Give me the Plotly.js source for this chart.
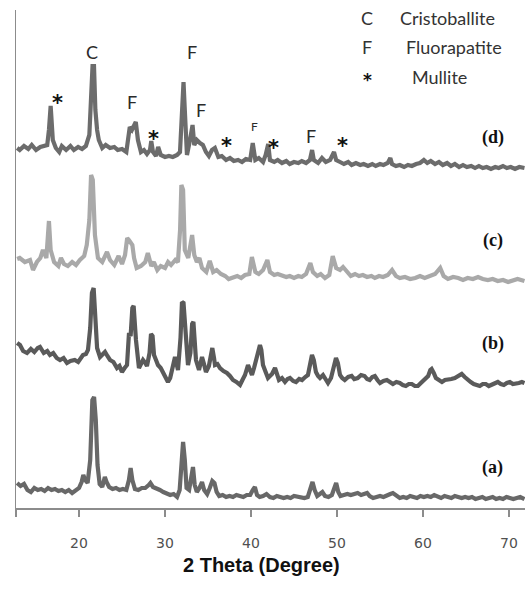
<!DOCTYPE html>
<html>
<head>
<meta charset="utf-8">
<script src="https://cdn.plot.ly/plotly-3.0.1.min.js"></script>
<style>
  html, body { margin: 0; padding: 0; background: #ffffff; }
  #chart { width: 525px; height: 591px; }
</style>
</head>
<body>
<div id="chart"></div>
<script>
// X-ray diffraction patterns, pairs of [2θ (deg), intensity (a.u.)]
const scanA = [
  [12.8,25],[13.2,22],[13.6,24],[14.0,18],[14.4,16],[14.8,20],[15.2,18],[15.6,19],[16.0,17],[16.4,20],
  [16.8,18],[17.2,19],[17.6,17],[18.0,18],[18.4,16],[18.8,18],[19.2,15],[19.6,17],[20.0,20],[20.3,26],
  [20.5,33],[20.7,28],[21.0,25],[21.3,48],[21.55,108],[21.75,111],[21.95,88],[22.15,43],[22.4,24],[22.7,21],
  [23.0,31],[23.2,26],[23.5,21],[23.9,19],[24.3,20],[24.7,18],[25.1,19],[25.5,18],[25.8,28],[26.0,40],
  [26.2,28],[26.5,19],[26.9,18],[27.3,20],[27.7,20],[28.1,23],[28.3,25],[28.6,21],[29.0,20],[29.4,18],
  [29.8,16],[30.2,15],[30.6,13],[31.0,14],[31.4,11],[31.7,18],[31.9,48],[32.1,66],[32.3,48],[32.5,20],
  [32.8,18],[33.1,33],[33.25,41],[33.45,23],[33.7,16],[34.0,20],[34.3,26],[34.55,18],[34.9,14],[35.2,20],
  [35.5,27],[35.75,25],[36.0,16],[36.3,12],[36.7,13],[37.1,11],[37.5,12],[37.9,11],[38.3,13],[38.7,12],
  [39.1,11],[39.5,13],[39.9,13],[40.2,18],[40.45,21],[40.7,13],[41.0,11],[41.4,12],[41.8,14],[42.2,11],
  [42.6,10],[43.0,12],[43.4,11],[43.8,10],[44.2,11],[44.6,10],[45.0,12],[45.4,11],[45.8,11],[46.2,10],
  [46.6,11],[46.9,18],[47.15,26],[47.4,18],[47.7,12],[48.0,14],[48.3,16],[48.6,12],[49.0,11],[49.4,13],
  [49.7,20],[49.9,25],[50.15,16],[50.4,12],[50.8,13],[51.2,14],[51.6,13],[52.0,14],[52.4,15],[52.8,13],
  [53.2,14],[53.5,15],[53.8,12],[54.2,10],[54.6,11],[55.0,12],[55.4,11],[55.8,13],[56.2,14],[56.5,15],
  [56.9,12],[57.3,10],[57.7,11],[58.1,10],[58.5,12],[58.9,11],[59.3,10],[59.7,12],[60.1,11],[60.5,12],
  [60.9,11],[61.3,13],[61.7,11],[62.1,10],[62.5,12],[62.9,11],[63.3,10],[63.7,12],[64.1,11],[64.5,10],
  [64.9,11],[65.3,10],[65.7,11],[66.1,9],[66.5,10],[66.9,11],[67.3,9],[67.7,10],[68.1,11],[68.5,9],
  [68.9,10],[69.3,9],[69.7,11],[70.1,10],[70.5,9],[70.9,10],[71.3,11],[71.8,9]
];

const scanB = [
  [12.8,55],[13.13,53],[13.5,47],[13.95,45],[14.4,49],[14.8,46],[15.2,50],[15.46,51],[15.9,45],[16.3,47],
  [16.62,43],[17.0,45],[17.4,40],[17.79,38],[18.2,40],[18.6,35],[19.0,37],[19.5,38],[19.9,36],[20.46,43],
  [20.8,44],[21.04,48],[21.3,70],[21.5,105],[21.7,110],[21.9,80],[22.1,50],[22.44,41],[22.7,44],[23.02,46],
  [23.3,42],[23.6,38],[24.0,36],[24.41,30],[24.7,32],[24.99,26],[25.3,30],[25.58,33],[25.81,65],[26.0,62],
  [26.2,90],[26.35,92],[26.62,58],[26.97,30],[27.2,34],[27.44,38],[27.7,35],[27.9,32],[28.2,45],[28.37,64],
  [28.55,62],[28.72,43],[28.95,38],[29.18,33],[29.5,30],[29.76,26],[30.05,22],[30.34,16],[30.6,20],[30.81,26],
  [31.0,35],[31.16,41],[31.35,35],[31.51,28],[31.8,60],[31.97,96],[32.15,95],[32.32,78],[32.5,50],[32.67,33],
  [32.95,45],[33.15,74],[33.3,76],[33.45,50],[33.6,38],[33.95,28],[34.15,35],[34.3,41],[34.5,35],[34.76,26],
  [35.1,32],[35.35,48],[35.5,50],[35.7,40],[35.81,33],[36.1,34],[36.39,30],[36.8,27],[37.2,25],[37.55,22],
  [37.9,18],[38.3,16],[38.72,13],[39.0,18],[39.3,23],[39.65,33],[39.9,28],[40.11,23],[40.35,30],[40.58,38],
  [40.85,50],[41.04,53],[41.2,48],[41.39,33],[41.7,26],[41.97,20],[42.2,22],[42.44,24],[42.79,30],[43.0,25],
  [43.25,18],[43.6,20],[43.95,16],[44.25,19],[44.53,20],[44.9,17],[45.23,16],[45.6,19],[45.93,18],[46.3,21],
  [46.62,23],[46.9,35],[47.09,43],[47.3,38],[47.55,26],[47.8,22],[48.02,20],[48.37,23],[48.65,19],[48.95,15],
  [49.3,20],[49.6,32],[49.88,40],[50.1,35],[50.35,23],[50.6,20],[50.9,18],[51.3,21],[51.7,22],[52.0,19],
  [52.4,20],[52.8,23],[53.2,22],[53.5,19],[53.8,18],[54.1,21],[54.4,22],[54.7,18],[55.0,15],[55.4,17],
  [55.8,18],[56.15,16],[56.5,14],[56.9,16],[57.3,15],[57.65,13],[58.0,12],[58.35,14],[58.7,14],[59.05,12],
  [59.4,12],[59.75,15],[60.1,18],[60.35,20],[60.6,22],[60.85,28],[61.0,29],[61.25,25],[61.5,20],[61.85,18],
  [62.2,16],[62.55,18],[62.9,18],[63.3,19],[63.7,20],[64.1,22],[64.5,24],[64.85,21],[65.2,18],[65.55,16],
  [65.9,14],[66.25,13],[66.6,12],[66.95,14],[67.3,14],[67.65,12],[68.0,13],[68.35,15],[68.7,16],[69.05,14],
  [69.4,13],[69.75,15],[70.1,16],[70.45,14],[70.8,14],[71.15,15],[71.5,16],[71.8,15]
];

const scanC = [
  [12.8,39],[13.1,40],[13.7,36],[14.3,38],[14.65,28],[15.1,36],[15.5,40],[15.8,48],[16.2,40],[16.5,77],
  [16.7,48],[17.1,36],[17.6,32],[17.9,40],[18.25,34],[18.7,32],[19.2,36],[19.65,33],[20.1,38],[20.6,42],
  [20.9,53],[21.2,78],[21.4,123],[21.6,118],[21.85,63],[22.2,40],[22.7,36],[23.25,46],[23.6,38],[24.1,33],
  [24.6,42],[25.0,34],[25.35,43],[25.6,60],[25.8,58],[26.2,53],[26.4,40],[26.7,30],[27.2,32],[27.7,36],
  [28.0,45],[28.4,32],[28.7,36],[29.1,28],[29.5,32],[30.0,30],[30.35,36],[30.7,33],[31.2,38],[31.5,36],
  [31.75,68],[31.9,113],[32.1,108],[32.3,48],[32.7,40],[33.0,53],[33.15,63],[33.4,43],[33.7,36],[34.0,40],
  [34.3,30],[34.8,26],[35.2,37],[35.6,26],[36.0,28],[36.5,24],[37.0,22],[37.4,19],[37.9,20],[38.4,22],
  [38.85,20],[39.3,23],[39.8,24],[40.1,41],[40.5,26],[40.9,24],[41.4,28],[41.9,38],[42.2,26],[42.7,23],
  [43.1,24],[43.6,22],[44.1,21],[44.5,22],[45.0,20],[45.5,22],[45.9,21],[46.4,24],[46.9,35],[47.2,26],
  [47.7,22],[48.1,24],[48.6,20],[49.1,23],[49.5,42],[49.9,30],[50.35,28],[50.7,31],[51.2,25],[51.6,22],
  [52.1,24],[52.55,22],[53.0,23],[53.5,21],[54.0,22],[54.4,20],[54.9,22],[55.35,21],[55.9,23],[56.4,28],
  [56.85,22],[57.3,20],[57.9,21],[58.5,19],[59.1,20],[59.65,22],[60.2,20],[60.8,22],[61.4,24],[62.0,30],
  [62.4,22],[62.9,19],[63.5,21],[64.1,20],[64.65,18],[65.2,20],[65.8,19],[66.4,21],[66.95,19],[67.55,18],
  [68.1,19],[68.7,17],[69.3,18],[69.9,16],[70.45,18],[71.0,19],[71.8,17]
];

const scanD = [
  [12.8,40],[13.1,38],[13.6,42],[14.1,39],[14.5,43],[15.0,38],[15.5,41],[16.0,42],[16.3,43],[16.5,58],
  [16.7,82],[16.95,48],[17.3,40],[17.7,36],[18.0,42],[18.5,38],[19.0,42],[19.4,38],[19.9,41],[20.35,39],
  [20.8,42],[21.2,53],[21.4,88],[21.57,122],[21.74,122],[21.9,78],[22.1,58],[22.3,48],[22.7,40],[23.1,43],
  [23.6,40],[24.1,41],[24.5,38],[25.0,39],[25.5,36],[25.8,51],[25.9,61],[26.15,58],[26.6,66],[26.85,48],
  [27.2,36],[27.55,38],[27.9,34],[28.25,38],[28.4,47],[28.6,36],[28.95,32],[29.2,41],[29.5,33],[30.0,31],
  [30.45,32],[30.9,31],[31.4,33],[31.74,36],[31.97,88],[32.15,106],[32.3,78],[32.55,33],[32.9,48],[33.2,63],
  [33.4,43],[33.7,48],[34.06,45],[34.4,43],[34.76,36],[35.1,32],[35.46,38],[35.8,40],[36.2,31],[36.6,32],
  [37.1,28],[37.55,30],[38.0,27],[38.5,28],[38.95,26],[39.4,29],[39.9,28],[40.2,45],[40.5,28],[40.9,30],
  [41.4,26],[41.7,33],[42.0,44],[42.2,28],[42.7,26],[43.1,28],[43.6,25],[44.1,27],[44.5,24],[45.0,26],
  [45.5,25],[45.9,27],[46.4,25],[46.85,28],[47.1,38],[47.3,28],[47.8,25],[48.25,30],[48.7,26],[49.2,28],
  [49.65,36],[49.9,28],[50.35,26],[50.8,24],[51.3,26],[51.7,23],[52.2,25],[52.7,23],[53.1,24],[53.6,22],
  [54.1,24],[54.5,22],[55.0,24],[55.4,23],[55.9,25],[56.2,30],[56.4,24],[56.85,22],[57.3,23],[57.8,21],
  [58.25,23],[58.7,22],[59.2,24],[59.65,25],[60.1,28],[60.5,25],[60.9,27],[61.4,24],[61.85,26],[62.3,23],
  [62.8,25],[63.25,22],[63.7,24],[64.2,21],[64.65,23],[65.1,21],[65.6,22],[66.05,20],[66.5,22],[66.95,20],
  [67.4,21],[67.9,19],[68.4,21],[68.8,20],[69.3,22],[69.75,20],[70.2,21],[70.7,19],[71.2,21],[71.8,20]
];

const sampleNames = ['(a)', '(b)', '(c)', '(d)'];
const xTickValues = [20, 30, 40, 50, 60, 70];
const xTitle = '2 Theta (Degree)';

// phase identification for pattern (d)
const phaseSymbols = ['C', 'F', '*'];
const phaseNames = ['Cristoballite', 'Fluorapatite', 'Mullite'];
const peakTheta = [16.7, 21.6, 26.4, 28.4, 32.15, 33.2, 35.8, 40.2, 42.0, 47.1, 49.65];
const peakPhase = ['*', 'C', 'F', '*', 'F', 'F', '*', 'F', '*', 'F', '*'];

// ---- drawing ----
const scans = [scanA, scanB, scanC, scanD];
const stackShift = [0, 110, 210, 320];
const lineColors = ['#686868', '#5a5a5a', '#a9a9a9', '#6c6c6c'];

const traces = scans.map((scan, i) => ({
  type: 'scatter',
  mode: 'lines',
  name: sampleNames[i],
  x: scan.map(p => p[0]),
  y: scan.map(p => p[1] + stackShift[i]),
  line: { color: lineColors[i], width: 4.2 },
  hoverinfo: 'skip'
}));

const letterFont = { family: 'Lato, "Open Sans", sans-serif', size: 18, color: '#2a2a2a' };
const starFont = { family: '"DejaVu Sans", sans-serif', size: 21, color: '#111', weight: 'bold' };

// label placement (x offset in degrees, height in axis units) for each identified peak
const labelPlace = [
  [0.85, 411], [-0.1, 456], [-0.25, 406], [0.3, 375], [0.99, 456], [0.98, 398],
  [1.4, 368], [0.15, 382], [0.67, 366], [-0.13, 372], [1.04, 368]
];

const annotations = [];
peakPhase.forEach((ph, i) => {
  const small = (i === 7);
  annotations.push({
    x: peakTheta[i] + labelPlace[i][0], y: labelPlace[i][1], xref: 'x', yref: 'y',
    text: ph, showarrow: false,
    font: ph === '*' ? starFont : Object.assign({}, letterFont, small ? { size: 12 } : {}),
    yshift: ph === '*' ? -6 : 0
  });
});

// phase key, top right
const keyY = [490, 461, 433];
phaseSymbols.forEach((s, i) => {
  annotations.push({
    x: 53.5, y: keyY[i], xref: 'x', yref: 'y', text: s, showarrow: false,
    font: s === '*' ? Object.assign({}, starFont, { size: 17 }) : Object.assign({}, letterFont, { color: '#333' }),
    yshift: s === '*' ? -5 : 0
  });
  annotations.push({
    x: i === 0 ? 57.1 : (i === 1 ? 57.8 : 58.5), y: keyY[i] - (i === 2 ? 2 : 0), xref: 'x', yref: 'y',
    text: phaseNames[i], showarrow: false, xanchor: 'left',
    font: Object.assign({}, letterFont, { color: '#333' })
  });
});

// sample tags on the right
const tagY = [41, 165, 268, 371];
sampleNames.forEach((n, i) => {
  annotations.push({
    x: 68.1, y: tagY[i], xref: 'x', yref: 'y', text: '<b>' + n + '</b>', showarrow: false,
    font: { family: '"Liberation Serif", "Times New Roman", serif', size: 18, color: '#111' }
  });
});

// x-axis caption
annotations.push({
  x: 0.483, y: 0, xref: 'paper', yref: 'paper', yanchor: 'middle', yshift: -57,
  text: '<b>' + xTitle + '</b>', showarrow: false,
  font: { family: '"Liberation Sans Narrow", "Liberation Sans", Arial, sans-serif', size: 20, color: '#111' }
});

const layout = {
  width: 525,
  height: 591,
  margin: { l: 16, r: 0, t: 10, b: 83 },
  paper_bgcolor: '#ffffff',
  plot_bgcolor: '#ffffff',
  showlegend: false,
  xaxis: {
    range: [12.67, 71.86],
    tickvals: [12.67].concat(xTickValues),
    ticktext: [''].concat(xTickValues.map(String)),
    ticks: 'outside', ticklen: 7, tickwidth: 1.5, tickcolor: '#8c8c8c',
    showline: true, linecolor: '#8c8c8c', linewidth: 1.5,
    showgrid: false, zeroline: false,
    ticklabelstandoff: 15,
    tickfont: { family: '"DejaVu Sans", sans-serif', size: 14, color: '#505050' }
  },
  yaxis: {
    range: [0, 498],
    showline: true, linecolor: '#8c8c8c', linewidth: 1.5,
    ticks: '', showticklabels: false, showgrid: false, zeroline: false
  },
  annotations: annotations
};

Plotly.newPlot('chart', traces, layout, { staticPlot: true, displayModeBar: false });
</script>
</body>
</html>
